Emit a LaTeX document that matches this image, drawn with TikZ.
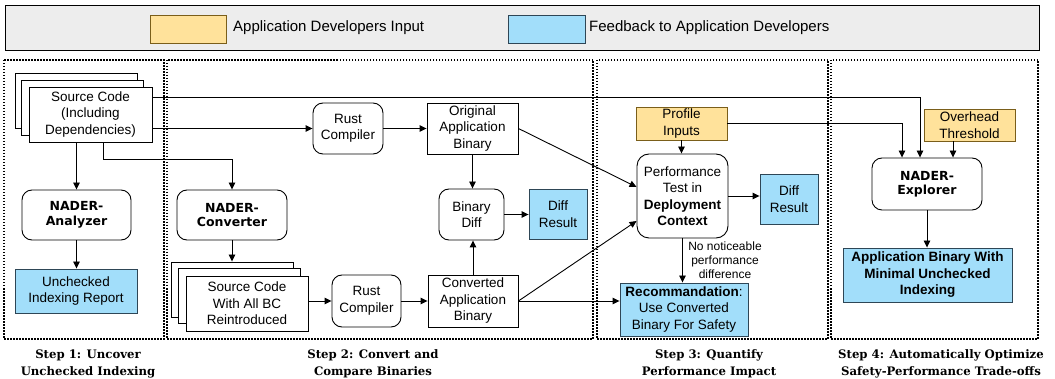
\documentclass[tikz,border=0pt]{standalone}
\usepackage{fontspec}
\setmainfont{Liberation Sans}
\newfontfamily\naderfont{DejaVu Sans}
\newfontfamily\stepfont{DejaVu Serif}
\usetikzlibrary{arrows.meta}
\definecolor{inyellow}{HTML}{FFE29B}
\definecolor{inyellowdraw}{HTML}{7A5E1A}
\definecolor{fbblue}{HTML}{A2DEFA}
\definecolor{fbbluedraw}{HTML}{2E4656}
\definecolor{legendbg}{HTML}{EDEDED}
\newcommand{\mainfs}{\fontsize{13.5}{16.5}\selectfont}
\newcommand{\naderfs}{\naderfont\bfseries\fontsize{12.5}{14.5}\selectfont}
\newcommand{\stepfs}{\stepfont\bfseries\fontsize{11.7}{17}\selectfont}
\tikzset{
  box/.style={draw, line width=0.9pt, fill=white, align=center, inner sep=0pt, font=\mainfs},
  rbox/.style={box, rounded corners=10pt},
  nbox/.style={rbox, font=\naderfs},
  inbox/.style={box, fill=inyellow, draw=inyellowdraw},
  fbbox/.style={box, fill=fbblue, draw=fbbluedraw},
  page/.style={draw, line width=0.9pt, fill=white, inner sep=0pt},
  conn/.style={line width=0.9pt, -{Triangle[length=7pt,width=6.5pt]}},
  frame/.style={line width=1.5pt, dash pattern=on 1.5pt off 1.5pt},
  steplabel/.style={align=center, font=\stepfs, inner sep=0pt},
  legtext/.style={anchor=west, inner sep=0pt, font=\fontsize{15}{18}\selectfont}
}
\begin{document}
\begin{tikzpicture}[x=1pt,y=-1pt]
\useasboundingbox (0,0) rectangle (1055,379);

% legend
\node[draw, line width=0.9pt, fill=legendbg, minimum width=1034pt, minimum height=45pt, inner sep=0pt] (legend) at (522,27.5) {};
\node[inbox, minimum width=76pt, minimum height=28pt] (legin) at (188,29) {};
\node[legtext] (legintext) at (233,28) {Application Developers Input};
\node[fbbox, minimum width=77pt, minimum height=28pt] (legfb) at (546.5,29) {};
\node[legtext] (legfbtext) at (589,28) {Feedback to Application Developers};

% step frames
\draw[frame] (4,60) rectangle (164,339);
\draw[frame] (167,60) rectangle (593,339);
\draw[frame] (597,60) rectangle (828,339);
\draw[frame] (831,60) rectangle (1038,339);

% step 1
\node[page, minimum width=122pt, minimum height=55pt] (srcb) at (76,100.5) {};
\node[page, minimum width=122pt, minimum height=55pt] (srcm) at (82,107.5) {};
\node[box, minimum width=123pt, minimum height=55pt] (src) at (90.5,114.5) {Source Code\\(Including\\Dependencies)};
\node[nbox, minimum width=109pt, minimum height=50pt] (analyzer) at (76.5,215) {NADER-\\Analyzer};
\node[fbbox, minimum width=122pt, minimum height=44pt] (report) at (76,291) {Unchecked\\Indexing Report};

% step 2
\node[nbox, minimum width=110pt, minimum height=50pt] (converter) at (232,215) {NADER-\\Converter};
\node[page, minimum width=122pt, minimum height=55pt] (src2b) at (232,289.5) {};
\node[page, minimum width=122pt, minimum height=55pt] (src2m) at (239,296) {};
\node[box, minimum width=122pt, minimum height=55pt] (src2) at (247,303.5) {Source Code\\With All BC\\Reintroduced};
\node[rbox, minimum width=70pt, minimum height=51pt] (rc1) at (348,128.5) {Rust\\Compiler};
\node[box, minimum width=91pt, minimum height=51pt] (orig) at (472.5,128.5) {Original\\Application\\Binary};
\node[rbox, minimum width=65pt, minimum height=51pt] (bdiff) at (471.5,214.5) {Binary\\Diff};
\node[fbbox, minimum width=58pt, minimum height=50pt] (diff1) at (558,214) {Diff\\Result};
\node[rbox, minimum width=69pt, minimum height=52pt] (rc2) at (366.5,301) {Rust\\Compiler};
\node[box, minimum width=90pt, minimum height=52pt] (conv) at (473,301) {Converted\\Application\\Binary};

% step 3
\node[inbox, minimum width=91pt, minimum height=33pt] (profile) at (681.5,123.5) {Profile\\Inputs};
\node[rbox, rounded corners=12pt, minimum width=91pt, minimum height=84pt] (perf) at (682.5,196) {Performance\\Test in\\\textbf{Deployment}\\\textbf{Context}};
\node[fbbox, minimum width=58pt, minimum height=50pt] (diff2) at (789,199) {Diff\\Result};
\node[fbbox, minimum width=128pt, minimum height=53pt] (rec) at (684,309.5) {\textbf{Recommandation}:\\Use Converted\\Binary For Safety};
\node[align=center, inner sep=0pt, font=\fontsize{12}{13.8}\selectfont] (nonote) at (725,260) {No noticeable\\performance\\difference};

% step 4
\node[inbox, minimum width=91pt, minimum height=32pt] (overhead) at (969.5,125) {Overhead\\Threshold};
\node[nbox, minimum width=110pt, minimum height=52pt] (explorer) at (927,184) {NADER-\\Explorer};
\node[fbbox, minimum width=169pt, minimum height=54pt, font=\mainfs\bfseries] (appbin) at (927.5,275) {Application Binary With\\Minimal Unchecked\\Indexing};

% step labels
\node[steplabel] (s1) at (88,363.5) {Step 1: Uncover\\Unchecked Indexing};
\node[steplabel] (s2) at (373,363.5) {Step 2: Convert and\\Compare Binaries};
\node[steplabel] (s3) at (709,363.5) {Step 3: Quantify\\Performance Impact};
\node[steplabel] (s4) at (941,363.5) {Step 4: Automatically Optimize\\Safety-Performance Trade-offs};

% connectors
\coordinate (bend) at (103,159);
\draw[conn] (src.east |- 0,97) -| ([xshift=-7pt]explorer.north);
\draw[conn] (src.east |- rc1.west) -- (rc1.west);
\draw[conn] (analyzer.north |- src.south) -- (analyzer.north);
\draw[conn] (src.south -| bend) -- (bend) -| (converter.north);
\draw[conn] (analyzer.south) -- (analyzer.south |- report.north);
\draw[conn] (converter.south) -- (converter.south |- src2b.north);
\draw[conn] (src2.east |- rc2.west) -- (rc2.west);
\draw[conn] (rc1.east) -- (orig.west);
\draw[conn] (rc2.east) -- (conv.west);
\draw[conn] (orig.south) -- (orig.south |- bdiff.north);
\draw[conn] (conv.north) -- (conv.north |- bdiff.south);
\draw[conn] (bdiff.east) -- (diff1.west |- bdiff.east);
\draw[conn] (orig.east) -- (perf.west |- 0,187);
\draw[conn] (conv.east) -- (perf.west |- 0,221);
\draw[conn] (conv.east) -- (rec.west |- conv.east);
\draw[conn] (profile.south) -- (perf.north -| profile.south);
\draw[conn] (perf.east) -- (diff2.west |- perf.east);
\draw[conn] (perf.south) -- (perf.south |- rec.north);
\draw[conn] (profile.east) -| ([xshift=-25pt]explorer.north);
\draw[conn] (overhead.south -| 953,0) -- (explorer.north -| 953,0);
\draw[conn] (explorer.south) -- (explorer.south |- appbin.north);
\end{tikzpicture}
\end{document}
